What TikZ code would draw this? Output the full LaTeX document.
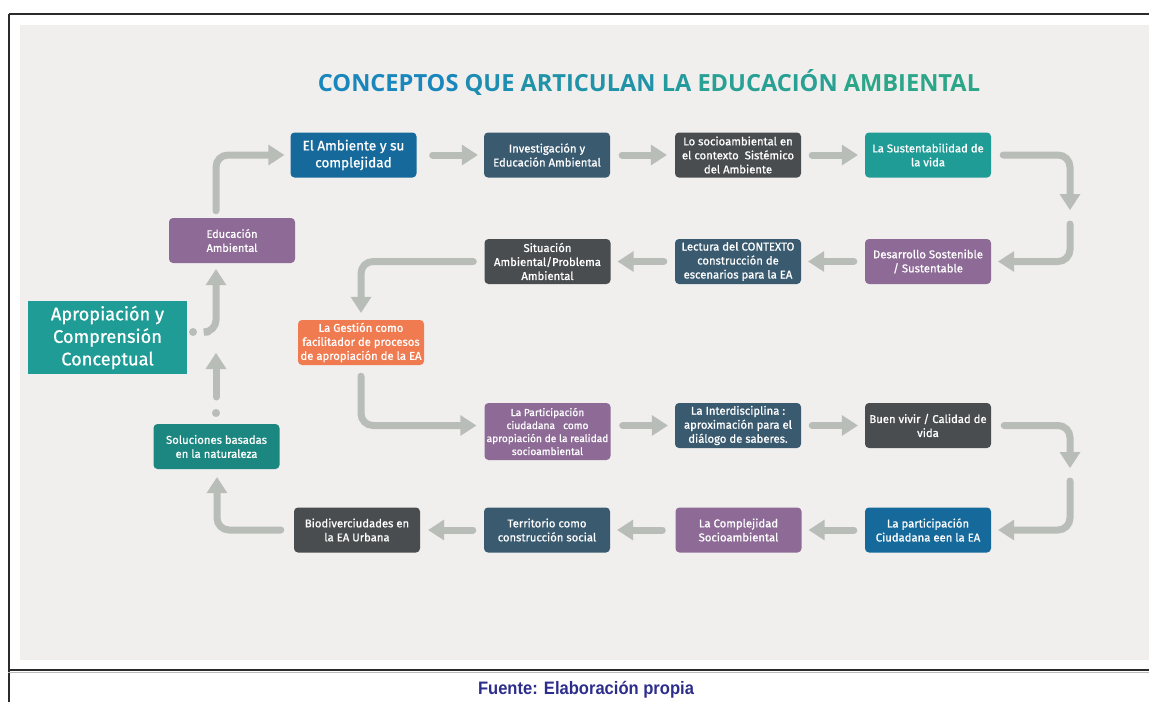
\documentclass[tikz,border=0pt]{standalone}
\usepackage{fontspec}
\setmainfont{Fira Sans}
\newfontfamily\boxfont{Fira Sans}[FakeBold=0.9]
\newfontfamily\titlefont{Open Sans}
\newfontfamily\notefont{Liberation Sans}
\usetikzlibrary{arrows.meta}

\definecolor{cblue}{HTML}{166A9B}
\definecolor{cslate}{HTML}{3A5A70}
\definecolor{cgray}{HTML}{4A4D4F}
\definecolor{cteal}{HTML}{1F9C96}
\definecolor{ctealdk}{HTML}{1C8680}
\definecolor{cpurple}{HTML}{8D6B96}
\definecolor{corange}{HTML}{F07B51}
\definecolor{flowgray}{HTML}{B9BDB8}
\definecolor{bggray}{HTML}{F0EFEE}
\definecolor{framegray}{HTML}{2B2B2B}
\definecolor{ttlA}{HTML}{1A87BC}
\definecolor{ttlB}{HTML}{2CA689}
\definecolor{fnote}{HTML}{2D2D8C}

\begin{document}
\begin{tikzpicture}[x=1pt, y=-1pt,
  box/.style={rectangle, rounded corners=4pt, minimum width=126pt, minimum height=45pt,
    inner xsep=1pt, inner ysep=2pt, align=center, text=white,
    font=\boxfont\fontsize{11.3}{14}\selectfont},
  flow/.style={draw=flowgray, line width=7pt, line cap=round, rounded corners=12pt,
    -{Triangle[width=21pt,length=16pt,line width=0pt]}},
  dot/.style={fill=flowgray}]
\useasboundingbox (0,0) rectangle (1149,702);

%frame and background
\fill[bggray] (20,25) rectangle (1149,660);
\draw[framegray, line width=2.5pt] (9,14) -- (1149,14);
\draw[framegray, line width=2.5pt] (9,14) -- (9,702);
\draw[flowgray, line width=1pt] (8,672) -- (1149,672);
\draw[framegray, line width=2.5pt] (8,670) -- (1149,670);

%title
\node[font=\titlefont\bfseries\fontsize{23.6}{26}\selectfont] (titulo) at (649,83)
  {\textcolor{ttlB!0!ttlA}{CONCEPTOS} \textcolor{ttlB!20!ttlA}{QUE}
   \textcolor{ttlB!40!ttlA}{ARTICULAN} \textcolor{ttlB!60!ttlA}{LA}
   \textcolor{ttlB!80!ttlA}{EDUCACIÓN} \textcolor{ttlB!100!ttlA}{AMBIENTAL}};

%first row
\node[box, fill=cblue, font=\boxfont\fontsize{13.6}{17}\selectfont] (amb) at (353.5,155) {El Ambiente y su\\complejidad};
\node[box, fill=cslate] (inv) at (547,155) {Investigación y\\Educación Ambiental};
\node[box, fill=cgray] (socio) at (738,155) {Lo socioambiental en\\el contexto~ Sistémico\\del Ambiente};
\node[box, fill=cteal] (sust) at (928,155) {La Sustentabilidad de\\la vida};

%second row
\node[box, fill=cpurple] (desa) at (928,261.5) {Desarrollo Sostenible\\/ Sustentable};
\node[box, fill=cslate] (lect) at (738,261.5) {Lectura del CONTEXTO\\construcción de\\escenarios para la EA};
\node[box, fill=cgray] (situ) at (547.5,261.5) {Situación\\Ambiental/Problema\\Ambiental};

%left column
\node[box, fill=cpurple, font=\boxfont\fontsize{11}{14}\selectfont] (edu) at (232,240.5) {Educación\\Ambiental};
\node[rectangle, fill=cteal, minimum width=159pt, minimum height=73pt, align=center, text=white,
  font=\boxfont\fontsize{18.2}{22.5}\selectfont] (apro) at (107.5,337.5) {Apropiación y\\Comprensión\\Conceptual};
\node[box, fill=corange] (gest) at (361,342.5) {La Gestión como\\facilitador de procesos\\de apropiación de la EA};
\node[box, fill=ctealdk] (solu) at (216.5,446.5) {Soluciones basadas\\en la naturaleza};

%third row
\node[box, fill=cpurple, minimum height=57pt, font=\boxfont\fontsize{10.2}{13}\selectfont] (part) at (547.5,431.5)
  {La Participación\\ciudadana~~ como\\apropiación de la realidad\\socioambiental};
\node[box, fill=cslate] (inter) at (738,425.5) {La Interdisciplina :\\aproximación para el\\diálogo de saberes.};
\node[box, fill=cgray] (buen) at (928,425.5) {Buen vivir / Calidad de\\vida};

%fourth row
\node[box, fill=cblue] (pciu) at (928,530) {La participación\\Ciudadana een la EA};
\node[box, fill=cpurple] (comp) at (738.5,530) {La Complejidad\\Socioambiental};
\node[box, fill=cslate] (terr) at (547,530) {Territorio como\\construcción social};
\node[box, fill=cgray] (bio) at (357,530) {Biodiverciudades en\\la EA Urbana};

%turning points and loose ends
\coordinate (r1) at (1070,210);
\coordinate (r2) at (1070,224);
\coordinate (r3) at (1070,468);
\coordinate (r4) at (1070,481);
\coordinate (d1) at (193,332);
\coordinate (d2) at (216,413);
\coordinate (s1) at (216,397);
\coordinate (s2) at (216,353);
\coordinate (s3) at (208,332);

%draw flow
\draw[flow] ([xshift=-16pt,yshift=7pt]edu.north) |- ([xshift=-6pt]amb.west);
\draw[flow] ([xshift=16pt]amb.east) -- ([xshift=-6pt]inv.west);
\draw[flow] ([xshift=12pt]inv.east) -- ([xshift=-8pt]socio.west);
\draw[flow] ([xshift=11pt]socio.east) -- ([xshift=-7pt]sust.west);
\draw[flow] ([xshift=12pt]sust.east) -| (r1);
\draw[flow] (r2) |- ([xshift=7pt]desa.east);
\draw[flow] ([xshift=-11pt]desa.west) -- ([xshift=7pt]lect.east);
\draw[flow] ([xshift=-11pt]lect.west) -- ([xshift=7pt]situ.east);
\draw[flow] ([xshift=-11pt]situ.west) -| ([yshift=7pt]gest.north);
\draw[flow] ([yshift=-11pt]gest.south) |- ([xshift=-8pt,yshift=6pt]part.west);
\draw[flow] ([xshift=12pt,yshift=6pt]part.east) -- ([xshift=-7pt]inter.west);
\draw[flow] ([xshift=11pt]inter.east) -- ([xshift=-7pt]buen.west);
\draw[flow] ([xshift=13pt]buen.east) -| (r3);
\draw[flow] (r4) |- ([xshift=7pt]pciu.east);
\draw[flow] ([xshift=-11pt]pciu.west) -- ([xshift=7pt]comp.east);
\draw[flow] ([xshift=-13pt]comp.west) -- ([xshift=7pt]terr.east);
\draw[flow] ([xshift=-11pt]terr.west) -- ([xshift=8pt]bio.east);
\draw[flow] ([xshift=-13pt]bio.west) -| ([xshift=0.5pt,yshift=-8pt]solu.south);
\draw[flow] (s1) -- (s2);
\draw[flow] (s3) -| ([xshift=-16pt,yshift=-6pt]edu.south);
\fill[dot] (d1) circle (4pt);
\fill[dot] (d2) circle (4pt);

%source
\node[text=fnote, font=\notefont\bfseries\fontsize{18}{20}\selectfont] (fuente) at (586,690)
  {\scalebox{0.92}[1]{Fuente: Elaboración propia}};
\end{tikzpicture}
\end{document}
